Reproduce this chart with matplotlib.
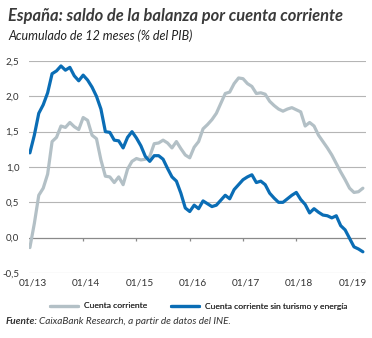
import matplotlib
matplotlib.use("Agg")
import matplotlib.pyplot as plt
import matplotlib.transforms as mtransforms
import numpy as np

# Monthly series, Jan 2013 - Apr 2019 (% of GDP, 12-month cumulative)
cuenta_corriente = [
    -0.14, 0.20, 0.60, 0.70, 0.90, 1.36, 1.42, 1.58, 1.56, 1.63, 1.57, 1.53,
    1.70, 1.66, 1.45, 1.40, 1.10, 0.87, 0.86, 0.78, 0.86, 0.75, 0.97, 1.08,
    1.12, 1.10, 1.11, 1.15, 1.33, 1.34, 1.38, 1.34, 1.27, 1.36, 1.26, 1.17,
    1.13, 1.28, 1.36, 1.54, 1.60, 1.67, 1.76, 1.90, 2.04, 2.06, 2.18, 2.26,
    2.25, 2.18, 2.14, 2.04, 2.05, 2.03, 1.93, 1.87, 1.82, 1.79, 1.82, 1.84,
    1.81, 1.78, 1.58, 1.63, 1.58, 1.45, 1.36, 1.27, 1.17, 1.05, 0.93, 0.82,
    0.70, 0.64, 0.65, 0.70,
]
sin_turismo_energia = [
    1.20, 1.45, 1.76, 1.88, 2.05, 2.32, 2.36, 2.43, 2.37, 2.41, 2.29, 2.22,
    2.30, 2.23, 2.13, 2.00, 1.82, 1.50, 1.49, 1.38, 1.37, 1.27, 1.42, 1.50,
    1.41, 1.30, 1.15, 1.08, 1.16, 1.16, 1.11, 0.98, 0.86, 0.80, 0.63, 0.42,
    0.37, 0.46, 0.41, 0.52, 0.48, 0.44, 0.46, 0.53, 0.60, 0.55, 0.68, 0.75,
    0.82, 0.86, 0.89, 0.78, 0.80, 0.75, 0.63, 0.56, 0.50, 0.50, 0.55, 0.60,
    0.64, 0.54, 0.47, 0.35, 0.41, 0.36, 0.32, 0.31, 0.28, 0.31, 0.17, 0.11,
    -0.01, -0.13, -0.16, -0.20,
]
series_names = ["Cuenta corriente", "Cuenta corriente sin turismo y energía"]
tick_labels = ["01/13", "01/14", "01/15", "01/16", "01/17", "01/18", "01/19"]
y_ticks = [-0.5, 0.0, 0.5, 1.0, 1.5, 2.0, 2.5]

months = np.arange(len(cuenta_corriente))
tick_pos = np.arange(len(tick_labels)) * 12

GRAY = "#b3c0c6"
BLUE = "#0a6db5"
TEXT = "#333333"
FONT = "Lato"

fig = plt.figure(figsize=(3.72, 3.38), dpi=100)
W, H = 372, 338
ax = fig.add_axes([29 / W, 1 - 273 / H, (366 - 29) / W, (273 - 61) / H])

ax.set_ylim(-0.5, 2.5)
ax.set_xlim(-0.2, 75.7)

# horizontal grid
for v in y_ticks:
    if v == 0.0:
        continue
    ax.axhline(v, color="#b5b5b5", lw=0.8, zorder=1)
ax.axhline(0.0, color="#8a8a8a", lw=0.9, zorder=1)

# small tick marks hanging from the zero line
ax.vlines(tick_pos, -0.045, 0.0, color="#8a8a8a", lw=0.9, zorder=1)

l1, = ax.plot(months, cuenta_corriente, color=GRAY, lw=2.3,
              solid_joinstyle="round", solid_capstyle="round", zorder=3)
l2, = ax.plot(months, sin_turismo_energia, color=BLUE, lw=2.3,
              solid_joinstyle="round", solid_capstyle="round", zorder=4)

for s in ax.spines.values():
    s.set_visible(False)

ax.set_yticks(y_ticks)
ax.set_yticklabels([f"{v:.1f}".replace(".", ",") for v in y_ticks],
                   fontsize=7, color=TEXT, family=FONT)
ax.tick_params(axis="y", length=0, pad=7)

ax.set_xticks(tick_pos)
ax.set_xticklabels(tick_labels, fontsize=7.3, color=TEXT, family=FONT)
ax.tick_params(axis="x", length=0, pad=4)
offset = mtransforms.ScaledTranslation(3 / 100, 0, fig.dpi_scale_trans)
for lbl in ax.get_xticklabels():
    lbl.set_transform(lbl.get_transform() + offset)

# title, subtitle
fig.text(8 / W, 1 - 16 / H, "España: saldo de la balanza por cuenta corriente",
         fontsize=11.9, fontweight="bold", fontstyle="italic", color="#3a3a3a",
         family=FONT, va="center", ha="left")
fig.text(8 / W, 1 - 36 / H, "Acumulado de 12 meses (% del PIB)",
         fontsize=9.0, fontstyle="italic", color="#222222",
         family=FONT, va="center", ha="left")

# legend: one entry per box so each can be placed on its own
for handle, name, x0 in [(l1, series_names[0], 50), (l2, series_names[1], 171)]:
    lg = fig.legend([handle], [name], loc="center left",
                    bbox_to_anchor=(x0 / W, 1 - 306 / H), frameon=False,
                    handlelength=3.3, handletextpad=0.75, borderpad=0,
                    borderaxespad=0, prop={"family": FONT, "size": 6.1})
    for t in lg.get_texts():
        t.set_color(TEXT)
    fig.add_artist(lg)

# source note
fig.text(6 / W, 1 - 322 / H, "Fuente:", fontsize=7.2, fontweight="bold",
         fontstyle="italic", color=TEXT, family=FONT, va="center", ha="left")
fig.text(39 / W, 1 - 322 / H, "CaixaBank Research, a partir de datos del INE.",
         fontsize=7.2, fontstyle="italic", color=TEXT, family=FONT,
         va="center", ha="left")

fig.savefig("out.png", dpi=100)
